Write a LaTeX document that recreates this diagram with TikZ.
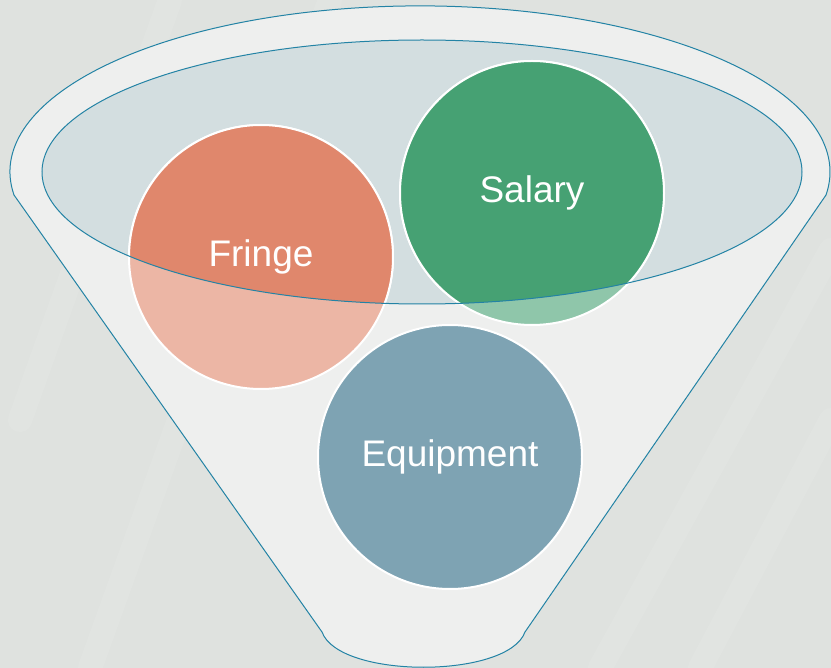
\documentclass[tikz,border=0pt]{standalone}
\usepackage{fontspec}
\setmainfont{Liberation Sans}
\definecolor{bgc}{HTML}{DFE2DF}
\definecolor{funnelfill}{HTML}{EEEFEE}
\definecolor{rimc}{HTML}{2383A5}
\definecolor{openfill}{HTML}{D3DEE0}
\definecolor{fringefull}{HTML}{E0876C}
\definecolor{fringelight}{HTML}{ECB6A5}
\definecolor{salaryfull}{HTML}{46A173}
\definecolor{salarylight}{HTML}{8FC6AA}
\definecolor{equipc}{HTML}{7EA3B3}
\tikzset{
  bubble/.style={circle, minimum size=264pt, inner sep=0pt, draw=white, line width=2pt},
  label text/.style={text=white, font=\fontsize{37}{41}\selectfont},
  rim/.style={draw=rimc, line width=1pt},
  streak/.style={white, opacity=0.09, line width=24pt, line cap=round}
}
\begin{document}
\begin{tikzpicture}[x=1pt,y=-1pt]
\useasboundingbox (0,0) rectangle (831,668);
% background
\fill[bgc] (0,0) rectangle (831,668);
\coordinate (s1a) at (20,420); \coordinate (s1b) at (170,0);
\coordinate (s2a) at (90,668); \coordinate (s2b) at (330,0);
\coordinate (s3a) at (600,668); \coordinate (s3b) at (831,250);
\coordinate (s4a) at (700,668); \coordinate (s4b) at (831,420);
\draw[streak] (s1a) -- (s1b);
\draw[streak] (s2a) -- (s2b);
\draw[streak] (s3a) -- (s3b);
\draw[streak] (s4a) -- (s4b);
% funnel body
\coordinate (rimL) at (14,195);
\coordinate (botR) at (525,632);
\coordinate (botL) at (322,632);
\filldraw[fill=funnelfill, rim]
  (rimL) arc[start angle=172, end angle=368, x radius=410, y radius=166]
  -- (botR) .. controls (508,679) and (339,679) .. (botL) -- cycle;
% opening
\coordinate (openc) at (422,172);
\fill[openfill] (openc) ellipse[x radius=380, y radius=132];
% back bubbles (light parts)
\node[bubble, fill=fringelight] (fringe) at (261,257) {};
\node[bubble, fill=salarylight] (salary) at (532,193) {};
% full colour parts inside opening
\begin{scope}
  \clip (openc) ellipse[x radius=380, y radius=132];
  \node[bubble, fill=fringefull] (fringein) at (fringe) {};
  \node[bubble, fill=salaryfull] (salaryin) at (salary) {};
\end{scope}
\draw[rim] (openc) ellipse[x radius=380, y radius=132];
\node[label text] (fringet) at (fringe) {Fringe};
\node[label text] (salaryt) at (salary) {Salary};
% front bubble
\node[bubble, fill=equipc, label text] (equip) at (450,457) {Equipment};
\end{tikzpicture}
\end{document}
